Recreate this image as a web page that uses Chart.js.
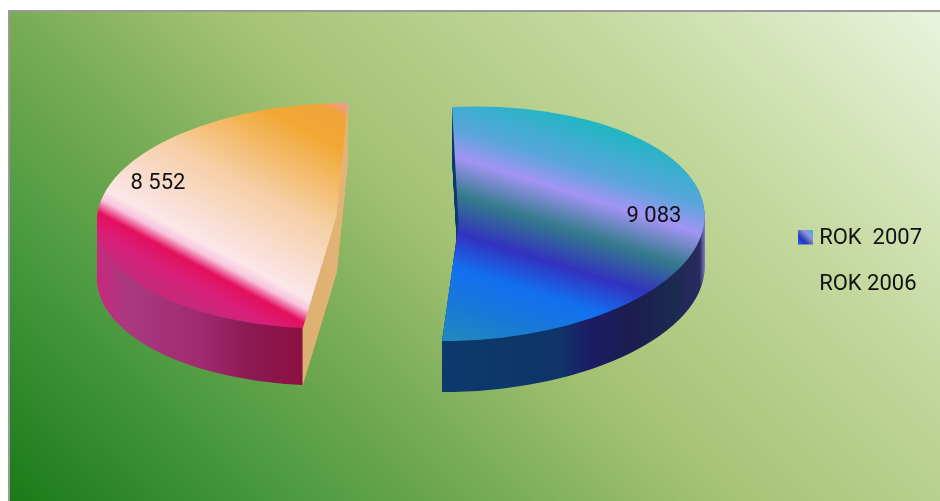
<!DOCTYPE html>
<html lang="pl">
<head>
<meta charset="utf-8">
<title>ROK 2007 / ROK 2006</title>
<script src="https://cdn.jsdelivr.net/npm/chart.js@4/dist/chart.umd.min.js"></script>
<style>
    html, body { margin: 0; padding: 0; background: #fff; }
    canvas { display: block; }
</style>
</head>
<body>
<canvas id="pieChart" width="940" height="501"></canvas>
<script>
// Data
const categories = ['ROK  2007', 'ROK 2006'];
const values = [9083, 8552];

// Where each exploded slice sits on the picture (the 3D tilt)
const sliceShapes = [
    { cx: 458.6, cy: 223.8, rx: 246, ry: 116.8, shear: 6.6, tilt: -11, depth: 51 },
    { cx: 336.7, cy: 215.8, rx: 239.4, ry: 112.8, shear: -11.3, tilt: 0, depth: 57 }
];
const labelSpots = [[654, 216], [158, 183]];

// Colours
const topFaces = [
    { from: [464, 69], to: [386, 317], stops: [
        [0.03, '#1cb8c0'], [0.23, '#5aa5dc'], [0.33, '#a294f4'], [0.47, '#347a8c'],
        [0.61, '#3232c0'], [0.74, '#1270f0'], [0.87, '#1878d8'], [1, '#2088c0']] },
    { from: [349, 103], to: [231, 323], stops: [
        [0, '#ee9aa8'], [0.06, '#f0a43a'], [0.18, '#f2a835'], [0.48, '#f5cfa5'], [0.77, '#fbe6ea'],
        [0.81, '#f8c4dc'], [0.86, '#e4105e'], [0.94, '#d8207a'], [1, '#c8277a']] }
];
const walls = [
    { from: [442, 0], to: [705, 0], stops: [
        [0, '#0c3a6c'], [0.45, '#0f3468'], [0.56, '#1c1c66'], [0.72, '#1c1c50'],
        [0.88, '#1b2a50'], [0.98, '#2a2a60'], [1, '#8080c0']] },
    { from: [97, 0], to: [350, 0], stops: [
        [0, '#c8287c'], [0.12, '#a93a80'], [0.41, '#a02a70'], [0.6, '#8d1a55'], [0.81, '#8a1040'],
        [0.815, '#dcb070'], [1, '#e4b478']] }
];
const backgroundStops = [
    [0, '#1a7a18'], [0.2, '#4b9a40'], [0.33, '#72a952'], [0.5, '#a4c274'], [0.75, '#c4d89e'], [1, '#e8f3dc']
];

// Turns a gradient given in picture pixels into one that looks the same under matrix m
function pictureGradient(ctx, m, spec) {
    const gx = spec.to[0] - spec.from[0];
    const gy = spec.to[1] - spec.from[1];
    const g2 = gx * gx + gy * gy;
    const ax = (m.a * gx + m.b * gy) / g2;
    const ay = (m.c * gx + m.d * gy) / g2;
    const det = m.a * m.d - m.b * m.c;
    const dx = spec.from[0] - m.e;
    const dy = spec.from[1] - m.f;
    const x0 = (m.d * dx - m.c * dy) / det;
    const y0 = (m.a * dy - m.b * dx) / det;
    const a2 = ax * ax + ay * ay;
    const gradient = ctx.createLinearGradient(x0, y0, x0 + ax / a2, y0 + ay / a2);
    spec.stops.forEach(stop => gradient.addColorStop(stop[0], stop[1]));
    return gradient;
}

function sliceMatrix(arc, shape) {
    const r = arc.outerRadius;
    const a = shape.rx / r;
    const b = shape.tilt / r;
    const c = shape.shear / r;
    const d = shape.ry / r;
    return {
        a, b, c, d,
        e: shape.cx - a * arc.x - c * arc.y,
        f: shape.cy - b * arc.x - d * arc.y
    };
}

function drawArcWith(ctx, arc, fill) {
    const saved = arc.options;
    arc.options = { backgroundColor: fill, borderColor: fill, borderWidth: 0, offset: 0, spacing: 0, borderRadius: 0, borderAlign: 'center', circular: true };
    arc.draw(ctx);
    arc.options = saved;
}

const backdrop = {
    id: 'backdrop',
    beforeDraw(chart) {
        const ctx = chart.ctx;
        const gradient = ctx.createLinearGradient(8, 501, 708, -209);
        backgroundStops.forEach(stop => gradient.addColorStop(stop[0], stop[1]));
        ctx.save();
        ctx.fillStyle = gradient;
        ctx.fillRect(8, 11, 932, 490);
        ctx.fillStyle = '#9a9a9a';
        ctx.fillRect(8, 10, 932, 2);
        ctx.fillRect(8, 10, 2, 491);
        ctx.restore();
    }
};

const tiltedPie = {
    id: 'tiltedPie',
    beforeDatasetsDraw(chart) {
        const ctx = chart.ctx;
        chart.getDatasetMeta(0).data.forEach((arc, i) => {
            const shape = sliceShapes[i];
            const m = sliceMatrix(arc, shape);
            const wallFill = pictureGradient(ctx, m, walls[i]);
            const topFill = pictureGradient(ctx, m, topFaces[i]);
            for (let d = shape.depth; d >= 0; d--) {
                ctx.save();
                ctx.translate(0, d);
                ctx.transform(m.a, m.b, m.c, m.d, m.e, m.f);
                drawArcWith(ctx, arc, d === 0 ? topFill : wallFill);
                ctx.restore();
            }
        });
        return false; // slices are done, skip the flat default drawing
    },
    afterDraw(chart) {
        const ctx = chart.ctx;
        ctx.save();
        ctx.font = '22px Roboto';
        ctx.fillStyle = '#111';
        ctx.textAlign = 'center';
        ctx.textBaseline = 'middle';
        values.forEach((value, i) => {
            const text = String(value).replace(/\B(?=(\d{3})+$)/g, ' ');
            ctx.fillText(text, labelSpots[i][0], labelSpots[i][1]);
        });
        ctx.restore();
    }
};

// Small gradient square for the legend
const swatch = document.createElement('canvas');
swatch.width = 15;
swatch.height = 18;
const swatchCtx = swatch.getContext('2d');
const swatchFill = swatchCtx.createLinearGradient(15, 0, 0, 15);
swatchFill.addColorStop(0, '#10c0d0');
swatchFill.addColorStop(0.35, '#9a90ec');
swatchFill.addColorStop(0.55, '#4a68b0');
swatchFill.addColorStop(0.7, '#3030c8');
swatchFill.addColorStop(1, '#1070f0');
swatchCtx.fillStyle = swatchFill;
swatchCtx.fillRect(0, 0, 15, 15);
const blankSwatch = document.createElement('canvas');
blankSwatch.width = 15;
blankSwatch.height = 15;

new Chart(document.getElementById('pieChart').getContext('2d'), {
    type: 'pie',
    data: {
        labels: categories,
        datasets: [{ data: values, borderWidth: 0, backgroundColor: ['#3232c0', '#f2a835'] }]
    },
    options: {
        responsive: false,
        animation: false,
        layout: { padding: { top: 22, right: 8 } },
        plugins: {
            tooltip: { enabled: false },
            legend: {
                position: 'right',
                labels: {
                    usePointStyle: true,
                    boxWidth: 5,
                    padding: 24,
                    color: '#111',
                    font: { family: 'Roboto', size: 22 },
                    generateLabels() {
                        return categories.map((text, i) => ({
                            text,
                            pointStyle: i === 0 ? swatch : blankSwatch,
                            fontColor: '#111',
                            lineWidth: 0,
                            strokeStyle: 'transparent',
                            fillStyle: 'transparent',
                            index: i
                        }));
                    }
                }
            }
        }
    },
    plugins: [backdrop, tiltedPie]
});
</script>
</body>
</html>
